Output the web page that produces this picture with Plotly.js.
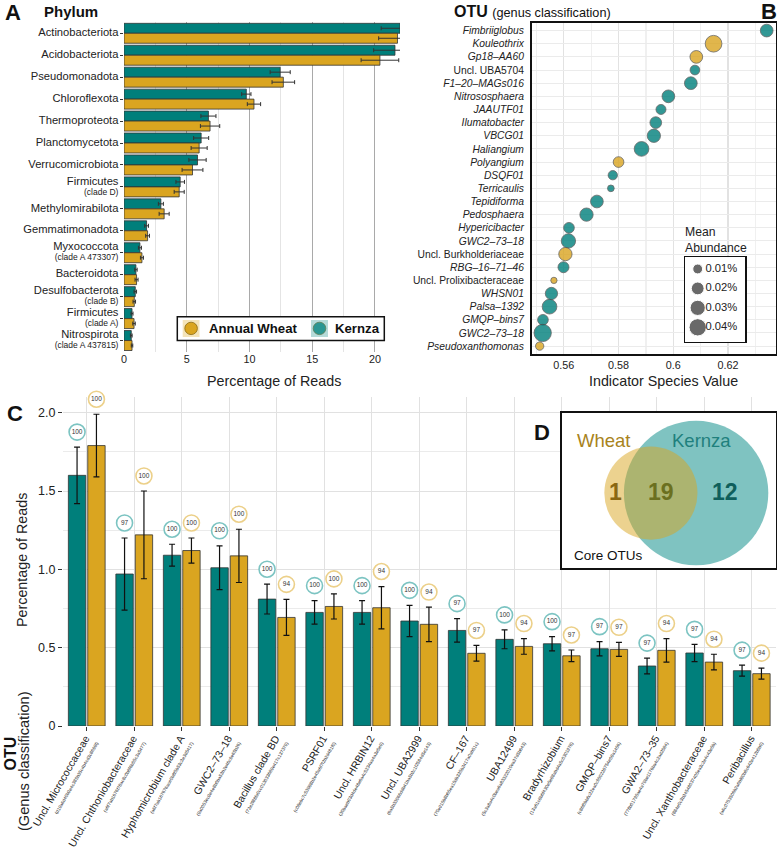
<!DOCTYPE html>
<html><head><meta charset="utf-8">
<script src="https://cdn.plot.ly/plotly-3.0.1.min.js"></script>
<style>body{margin:0;background:#fff}</style>
</head><body><div id="chart" style="width:777px;height:852px"></div>
<script>
// ---------- Panel A : phylum relative abundance ----------
const phylumNames = ["Actinobacteriota","Acidobacteriota","Pseudomonadota","Chloroflexota","Thermoproteota","Planctomycetota","Verrucomicrobiota","Firmicutes","Methylomirabilota","Gemmatimonadota","Myxococcota","Bacteroidota","Desulfobacterota","Firmicutes","Nitrospirota"];
const phylumClades = ["","","","","","","","clade D","","","clade A 473307","","clade B","clade A","clade A 437815"];
const kernzaPhylum = [22.0,21.6,12.45,9.75,6.73,6.15,5.86,4.48,2.94,1.80,1.27,0.95,0.90,0.64,0.58];
const kernzaPhylumErr = [1.5,1.7,0.8,0.37,0.6,0.6,0.69,0.34,0.2,0.15,0.12,0.1,0.1,0.08,0.07];
const wheatPhylum = [21.8,20.4,12.7,10.36,6.86,5.99,5.46,4.40,3.20,1.88,1.43,1.00,0.82,0.80,0.64];
const wheatPhylumErr = [1.5,1.5,0.9,0.53,0.77,0.64,0.83,0.4,0.4,0.15,0.12,0.12,0.1,0.1,0.06];
const phylumTicks = [0,5,10,15,20];

// ---------- Panel B : indicator species ----------
const otuNames = ["Fimbriiglobus","Kouleothrix","Gp18–AA60","Uncl. UBA5704","F1–20–MAGs016","Nitrososphaera","JAAUTF01","Ilumatobacter","VBCG01","Haliangium","Polyangium","DSQF01","Terricaulis","Tepidiforma","Pedosphaera","Hypericibacter","GWC2–73–18","Uncl. Burkholderiaceae","RBG–16–71–46","Uncl. Prolixibacteraceae","WHSN01","Palsa–1392","GMQP–bins7","GWC2–73–18","Pseudoxanthomonas"];
const otuItalic = [1,1,1,0,1,1,1,1,1,1,1,1,1,1,1,1,1,0,1,0,1,1,1,1,1];
const otuGroup = ["Kernza","Wheat","Wheat","Kernza","Kernza","Kernza","Kernza","Kernza","Kernza","Kernza","Wheat","Kernza","Kernza","Kernza","Kernza","Kernza","Kernza","Wheat","Kernza","Wheat","Kernza","Kernza","Kernza","Kernza","Wheat"];
const indicatorValue = [0.6341,0.6147,0.6084,0.6079,0.6064,0.5982,0.5955,0.5936,0.5929,0.5884,0.5800,0.5779,0.5772,0.5721,0.5683,0.5619,0.5617,0.5606,0.5599,0.5564,0.5555,0.5548,0.5524,0.5523,0.5512];
const meanAbundance = [0.0195,0.0369,0.0195,0.0095,0.0195,0.0195,0.0104,0.0158,0.0218,0.0276,0.0125,0.0084,0.0022,0.0195,0.0218,0.0125,0.0259,0.0218,0.0135,0.0014,0.0180,0.0276,0.0125,0.0399,0.0058];
const abundanceLegend = [0.01,0.02,0.03,0.04];
const indicatorTicks = [0.56,0.58,0.60,0.62];
const indicatorTickText = ["0.56","0.58","0.6","0.62"];

// ---------- Panel C : core OTUs ----------
const coreOtu = ["Uncl. Micrococcaceae","Uncl. Chthoniobacteraceae","Hyphomicrobium clade A","GWC2–73–18","Bacillus clade BD","PSRF01","Uncl. HRBIN12","Uncl. UBA2999","CF–167","UBA12499","Bradyrhizobium","GMQP–bins7","GWA2–73–35","Uncl. Xanthobacteraceae","Peribacillus"];
const coreHash = ["d19a6d40b9e4c385b35c4b4cd3c8698f","a6f7ab1676f78ac8c0b8f6b55c3a5477","a6f7ab167676ace0b8f5b53c3e3d5417","9a0053ec9e4e8b0ba53b2e46c9e65b26","72e2f88fa0cc013033689e417c137379","c08ebc7c53988b2e45a6f7f2b2d481f0","30baeb03d4de48e6a4c5234aa4a3e5e9","6a5b33066ddb41ba5b2c1f2584d5e143","70e915b8b65ea15db335b2417a0ab51c","5c3a8a4c0bea6a83322010ea37d5b643","13a61c8b6f430e5e88abd4a5c0301978","c86f0bb6c22ea0c950228754e08a1456","778b01795ae4a79be1176ba4c2ad2584","884e0c3b24548037405ea3c2e4c43e5b","a6c0753506b2a6bf80b8c642e412b5b0"];
const kernzaCore = [1.60,0.97,1.09,1.01,0.81,0.725,0.725,0.67,0.61,0.553,0.525,0.493,0.383,0.466,0.353];
const kernzaCoreErr = [0.18,0.23,0.07,0.14,0.095,0.075,0.075,0.10,0.075,0.06,0.045,0.045,0.05,0.055,0.035];
const wheatCore = [1.79,1.22,1.12,1.086,0.693,0.763,0.755,0.649,0.464,0.508,0.448,0.489,0.483,0.408,0.334];
const wheatCoreErr = [0.20,0.28,0.08,0.17,0.115,0.08,0.135,0.11,0.05,0.05,0.037,0.045,0.075,0.05,0.035];
const kernzaPrevalence = [100,97,100,100,100,100,100,100,97,100,100,97,97,97,97];
const wheatPrevalence = [100,100,100,100,94,100,94,94,97,94,97,97,94,94,94];
const coreTicks = [0,0.5,1,1.5,2];
const coreTickText = ["0","0.5","1.0","1.5","2.0"];

// ---------- Panel D : Venn counts ----------
const wheatOnly = 1, sharedCore = 19, kernzaOnly = 12;

// ---------- styling helpers ----------
const W = 777, H = 852;
const fx = x => x / W, fy = y => 1 - y / H;
const TEAL = '#007f7b', GOLD = '#daa520';
const FONT = 'Liberation Sans, Arial, Helvetica, sans-serif';
const vennX = [0, 92], vennY = [0, 66.8];       // inset frame extent
const legX = [0, 60], legY = [3.74, -0.6];      // size-legend frame extent
const boxFill = (xr, yr, xa, ya) => ({type:'scatter', mode:'lines', x:[xr[0], xr[1], xr[1], xr[0], xr[0]], y:[yr[0], yr[0], yr[1], yr[1], yr[0]],
  fill:'toself', fillcolor:'white', line:{width:0}, xaxis:xa, yaxis:ya, hoverinfo:'skip'});

const traces = [];
// A
const phylumKeys = phylumNames.map((n, i) => n + (phylumClades[i] ? ' (' + phylumClades[i] + ')' : ''));
const phylumText = phylumNames.map((n, i) => '<span style="font-size:11.2px">' + n + '</span>' + (phylumClades[i] ? '<br><span style="font-size:8.5px">(' + phylumClades[i] + ')</span>' : ''));
traces.push({type:'bar', orientation:'h', x:kernzaPhylum, y:phylumKeys, xaxis:'x', yaxis:'y',
  marker:{color:TEAL, line:{color:'#333', width:0.8}},
  error_x:{type:'data', array:kernzaPhylumErr, color:'#333', thickness:1, width:2}, hoverinfo:'skip'});
traces.push({type:'bar', orientation:'h', x:wheatPhylum, y:phylumKeys, xaxis:'x', yaxis:'y',
  marker:{color:GOLD, line:{color:'#333', width:0.8}},
  error_x:{type:'data', array:wheatPhylumErr, color:'#333', thickness:1, width:2}, hoverinfo:'skip'});

// B
const sz = v => Math.sqrt(30 + 6750 * v);
const idx = otuNames.map((_, i) => i);
[['Kernza', TEAL], ['Wheat', GOLD]].forEach(([g, c]) => {
  const ii = idx.filter(i => otuGroup[i] === g);
  traces.push({type:'scatter', mode:'markers', x:ii.map(i => indicatorValue[i]), y:ii, xaxis:'x2', yaxis:'y2',
    marker:{size:ii.map(i => sz(meanAbundance[i])), color:c, opacity:0.8, line:{color:'#444', width:0.8}},
    cliponaxis:false, hoverinfo:'skip'});
});

// C
const cx = coreOtu.map((_, i) => i);
traces.push({type:'bar', x:cx, y:kernzaCore, xaxis:'x3', yaxis:'y3', width:0.366, offset:-0.387,
  marker:{color:TEAL, line:{color:'#333', width:0.8}},
  error_y:{type:'data', array:kernzaCoreErr, color:'#111', thickness:1.2, width:3}, hoverinfo:'skip'});
traces.push({type:'bar', x:cx, y:wheatCore, xaxis:'x3', yaxis:'y3', width:0.366, offset:0.021,
  marker:{color:GOLD, line:{color:'#333', width:0.8}},
  error_y:{type:'data', array:wheatCoreErr, color:'#111', thickness:1.2, width:3}, hoverinfo:'skip'});
traces.push({type:'scatter', mode:'markers+text', x:cx.map(i => i - 0.204), y:kernzaCore.map((v, i) => v + kernzaCoreErr[i] + 0.096),
  text:kernzaPrevalence.map(String), textposition:'middle center', textfont:{size:6.5, color:'#333'},
  marker:{symbol:'circle', size:16, color:'white', line:{color:'#7cc4c2', width:1.6}},
  xaxis:'x3', yaxis:'y3', cliponaxis:false, hoverinfo:'skip'});
traces.push({type:'scatter', mode:'markers+text', x:cx.map(i => i + 0.204), y:wheatCore.map((v, i) => v + wheatCoreErr[i] + 0.096),
  text:wheatPrevalence.map(String), textposition:'middle center', textfont:{size:6.5, color:'#333'},
  marker:{symbol:'circle', size:16, color:'white', line:{color:'#ecd089', width:1.6}},
  xaxis:'x3', yaxis:'y3', cliponaxis:false, hoverinfo:'skip'});

// B size legend (own subplot, drawn above panel B)
traces.push(boxFill(legX, legY, 'x4', 'y4'));
traces.push({type:'scatter', mode:'markers', x:abundanceLegend.map(() => 12.7), y:abundanceLegend.map((_, i) => i),
  xaxis:'x4', yaxis:'y4', marker:{size:abundanceLegend.map(sz), color:'#2b2b2b'}, cliponaxis:false, hoverinfo:'skip'});
traces.push({type:'scatter', mode:'text', x:abundanceLegend.map(() => 20.5), y:abundanceLegend.map((_, i) => i),
  text:abundanceLegend.map(v => v.toFixed(2) + '%'), textposition:'middle right',
  textfont:{size:11.2, color:'#222'}, xaxis:'x4', yaxis:'y4', cliponaxis:false, hoverinfo:'skip'});

// D inset frame (own subplot, drawn above panel C)
traces.push(boxFill(vennX, vennY, 'x5', 'y5'));

const coreText = coreOtu.map((n, i) => '<span style="font-size:10.5px">' + n + '</span><br><span style="font-size:4.6px">(' + coreHash[i] + ')</span>');

// Venn geometry (radius proportional to set size)
const rW = wheatOnly + sharedCore, rK = sharedCore + kernzaOnly;
const cW = [38.3, 32.3], cK = [57.7, 32.3];

const shapes = [
  // A legend
  {type:'rect', xref:'paper', yref:'paper', x0:fx(177.3), x1:fx(384.3), y0:fy(340.5), y1:fy(316.7), fillcolor:'white', line:{color:'#111', width:1.5}, layer:'above'},
  {type:'rect', xref:'paper', yref:'paper', x0:fx(182.7), x1:fx(199.5), y0:fy(337), y1:fy(320), fillcolor:'#f4e4b9', line:{width:0}, layer:'above'},
  {type:'rect', xref:'paper', yref:'paper', x0:fx(311), x1:fx(328), y0:fy(337), y1:fy(320), fillcolor:'#b5dbd9', line:{width:0}, layer:'above'},
  {type:'circle', xref:'paper', yref:'paper', x0:fx(184.8), x1:fx(197.4), y0:fy(334.6), y1:fy(322.2), fillcolor:GOLD, line:{color:'#8a6a10', width:0.8}, layer:'above'},
  {type:'circle', xref:'paper', yref:'paper', x0:fx(313.2), x1:fx(325.8), y0:fy(334.6), y1:fy(322.2), fillcolor:'#2a9793', line:{color:'#5b7b52', width:0.8}, layer:'above'},
  // D circles
  {type:'circle', xref:'x5', yref:'y5', x0:cK[0]-rK, x1:cK[0]+rK, y0:cK[1]-rK, y1:cK[1]+rK, fillcolor:'#008884', opacity:0.5, line:{width:0}, layer:'above'},
  {type:'circle', xref:'x5', yref:'y5', x0:cW[0]-rW, x1:cW[0]+rW, y0:cW[1]-rW, y1:cW[1]+rW, fillcolor:GOLD, opacity:0.5, line:{width:0}, layer:'above'},
];

const ann = (x, y, text, o = {}) => Object.assign({xref:'paper', yref:'paper', x:fx(x), y:fy(y), text, showarrow:false, xanchor:'center', yanchor:'middle', font:{size:16, color:'#222'}}, o);
const annotations = [
  ann(13, 12.5, '<b>A</b>', {font:{size:22, color:'#111'}}),
  ann(42, 11, '<b>Phylum</b>', {xanchor:'left', font:{size:15, color:'#111'}}),
  ann(274, 381, 'Percentage of Reads', {font:{size:14.3, color:'#222'}}),
  ann(207, 328.5, '<b>Annual Wheat</b>', {xanchor:'left', font:{size:13.2, color:'#111'}}),
  ann(333, 328.5, '<b>Kernza</b>', {xanchor:'left', font:{size:13.2, color:'#111'}}),
  ann(452, 11, '<b>OTU</b> <span style="font-size:12.7px">(genus classification)</span>', {xanchor:'left', font:{size:16, color:'#111'}}),
  ann(769, 12, '<b>B</b>', {font:{size:22, color:'#111'}}),
  ann(663, 381, 'Indicator Species Value', {font:{size:14.3, color:'#222'}}),
  ann(684, 240.5, 'Mean<br>Abundance', {xanchor:'left', align:'left', borderpad:0, font:{size:12.2, color:'#222'}}),
  ann(15, 413, '<b>C</b>', {font:{size:22, color:'#111'}}),
  ann(22, 560, 'Percentage of Reads', {textangle:-90, font:{size:14.3, color:'#222'}}),
  ann(9.5, 754, '<b>OTU</b>', {textangle:-90, font:{size:16, color:'#111'}}),
  ann(24, 761, '(Genus classification)', {textangle:-90, font:{size:14.6, color:'#222'}}),
  ann(541.7, 433, '<b>D</b>', {font:{size:22, color:'#111'}}),
  ann(603, 440, 'Wheat', {font:{size:18.5, color:'#a8831c'}}),
  ann(701, 440, 'Kernza', {font:{size:18.5, color:'#1f807d'}}),
  ann(615.3, 492, '<b>' + wheatOnly + '</b>', {font:{size:23, color:'#8a6712'}}),
  ann(661, 492, '<b>' + sharedCore + '</b>', {font:{size:23, color:'#6b7020'}}),
  ann(725, 492, '<b>' + kernzaOnly + '</b>', {font:{size:23, color:'#0f5f5c'}}),
  ann(608.3, 555.5, 'Core OTUs', {font:{size:13.5, color:'#111'}}),
];

const frameAxis = (o) => Object.assign({showline:true, mirror:true, linecolor:'#111', linewidth:1.5, showgrid:false, zeroline:false,
  showticklabels:false, ticks:'', fixedrange:true, automargin:false}, o);

const layout = {
  width:W, height:H, margin:{l:0, r:0, t:0, b:0}, paper_bgcolor:'white', plot_bgcolor:'white',
  font:{family:FONT, color:'#222'}, showlegend:false, barmode:'group', bargap:0.09, bargroupgap:0,
  xaxis:{domain:[fx(124), fx(400)], anchor:'y', range:[0, 22], tickvals:phylumTicks, ticks:'', showgrid:true, gridcolor:'#a9a9a9', gridwidth:1,
    minor:{dtick:2.5, tick0:0, showgrid:true, gridcolor:'#e4e4e4', gridwidth:1}, zeroline:false, showline:false, tickfont:{size:10.8, color:'#222'}, automargin:false, fixedrange:true},
  yaxis:{domain:[fy(351.5), fy(22.3)], anchor:'x', type:'category', categoryarray:phylumKeys, range:[14.5, -0.5], tickmode:'array', tickvals:phylumKeys, ticktext:phylumText,
    ticks:'outside', ticklen:3, tickcolor:'#333', showgrid:false, zeroline:false, showline:false, tickfont:{size:7.7, color:'#222'}, automargin:false},
  xaxis2:{domain:[fx(532), fx(776)], anchor:'y2', range:[0.5484, 0.6375], tickvals:indicatorTicks, ticktext:indicatorTickText, ticks:'',
    showgrid:true, gridcolor:'#e2e2e2', gridwidth:1.2, minor:{dtick:0.01, tick0:0.55, showgrid:true, gridcolor:'#f0f0f0'}, zeroline:false,
    showline:true, mirror:true, linecolor:'#111', linewidth:2, tickfont:{size:10.8, color:'#222'}, automargin:false},
  yaxis2:{domain:[fy(354), fy(22.7)], anchor:'x2', range:[24.6, -0.6], tickvals:idx, ticktext:otuNames.map((n, i) => otuItalic[i] ? '<i>' + n + '</i>' : n),
    ticks:'', ticklabelstandoff:4, showgrid:true, gridcolor:'#ebebeb', zeroline:false, showline:true, mirror:true, linecolor:'#111', linewidth:2, tickfont:{size:10.3, color:'#222'}, automargin:false},
  xaxis3:{domain:[fx(63), fx(775.5)], anchor:'y3', range:[-0.5, 14.5], tickvals:cx, ticktext:coreText, tickangle:-60, ticks:'outside', ticklen:4, tickcolor:'#333',
    showgrid:true, gridcolor:'#e1e1e1', zeroline:false, showline:false, tickfont:{size:7.6, color:'#222'}, automargin:false},
  yaxis3:{domain:[fy(726), fy(397)], anchor:'x3', range:[0, 2.1], tickvals:coreTicks, ticktext:coreTickText, ticks:'outside', ticklen:4, tickcolor:'#333',
    showgrid:true, gridcolor:'#e1e1e1', minor:{dtick:0.25, tick0:0, showgrid:true, gridcolor:'#ebebeb'}, zeroline:false, showline:false, tickfont:{size:12.5, color:'#222'}, automargin:false},
  xaxis4:frameAxis({domain:[fx(685), fx(745)], anchor:'y4', range:legX}),
  yaxis4:frameAxis({domain:[fy(341.7), fy(257.3)], anchor:'x4', range:legY}),
  xaxis5:frameAxis({domain:[fx(561.7), fx(776)], anchor:'y5', range:vennX}),
  yaxis5:frameAxis({domain:[fy(568.3), fy(412.7)], anchor:'x5', range:vennY}),
  shapes, annotations
};
Plotly.newPlot('chart', traces, layout, {displayModeBar:false, staticPlot:true});
</script></body></html>
